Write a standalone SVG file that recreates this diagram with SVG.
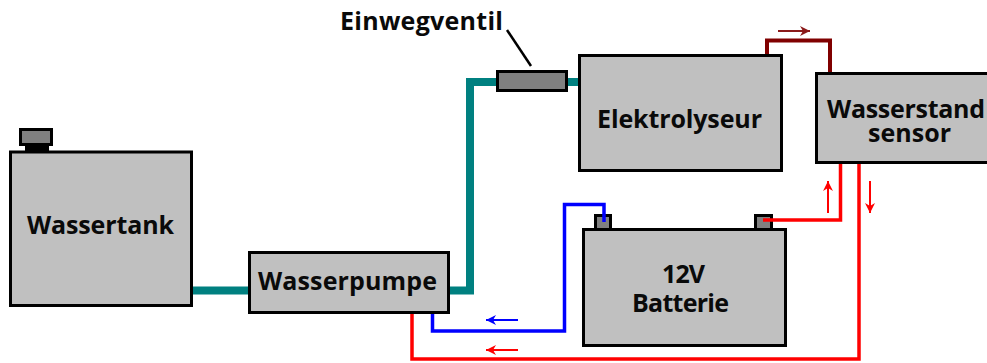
<svg xmlns="http://www.w3.org/2000/svg" width="987" height="363" viewBox="0 0 987 363">
<style>
.box{fill:#c0c0c0;stroke:#000;stroke-width:3}
.dark{fill:#808080;stroke:#000;stroke-width:3}
text{font-family:"Open Sans","Liberation Sans",Arial,sans-serif;font-weight:700;font-size:25px;fill:#0a0a0a}
.w{fill:none;stroke-linejoin:miter}
.teal{stroke:#008080;stroke-width:8}
.red{stroke:#f00;stroke-width:3.500}
.blue{stroke:#00f;stroke-width:3.500}
.maroon{stroke:#800000;stroke-width:4}
.a{fill:none;stroke-width:2}
</style>
<defs>
<marker id="hr" viewBox="0 0 12 12" refX="11" refY="6" markerWidth="12" markerHeight="12" markerUnits="userSpaceOnUse" orient="auto"><path d="M1 1L11 6L1 11L4 6Z" fill="#f00"/></marker>
<marker id="hb" viewBox="0 0 12 12" refX="11" refY="6" markerWidth="12" markerHeight="12" markerUnits="userSpaceOnUse" orient="auto"><path d="M1 1L11 6L1 11L4 6Z" fill="#00f"/></marker>
<marker id="hm" viewBox="0 0 12 12" refX="11" refY="6" markerWidth="12" markerHeight="12" markerUnits="userSpaceOnUse" orient="auto"><path d="M1 1L11 6L1 11L4 6Z" fill="#8b1a1a"/></marker>
</defs>
<rect width="987" height="363" fill="#fff"/>
<g id="wassertank">
<rect x="25" y="145" width="24" height="7" fill="#000"/>
<rect class="dark" x="20.500" y="129.500" width="31" height="15"/>
<rect class="box" x="10.500" y="152" width="181" height="153.500"/>
<text x="27" y="234" textLength="147">Wassertank</text>
</g>
<g id="wasserpumpe">
<rect class="box" x="249.500" y="252.500" width="199" height="60"/>
<text x="258" y="290" textLength="179">Wasserpumpe</text>
</g>
<g id="einwegventil">
<rect class="dark" x="497.500" y="71.500" width="69" height="19"/>
<text x="340" y="30" textLength="163">Einwegventil</text>
<line x1="507" y1="30" x2="531" y2="66" stroke="#000" stroke-width="2.500"/>
</g>
<g id="elektrolyseur">
<rect class="box" x="579.500" y="55.500" width="202" height="115"/>
<text x="597" y="128" textLength="165">Elektrolyseur</text>
</g>
<g id="wasserstandsensor">
<rect class="box" x="816.500" y="73.500" width="175" height="89"/>
<text x="827" y="118" textLength="158">Wasserstand</text>
<text x="868" y="142" textLength="83">sensor</text>
</g>
<g id="batterie">
<rect class="dark" x="595.500" y="215.500" width="15" height="14"/>
<rect class="dark" x="755.500" y="215.500" width="16" height="14"/>
<rect class="box" x="583.500" y="229.500" width="202" height="116"/>
<text x="662" y="283" textLength="43">12V</text>
<text x="632" y="312" textLength="97">Batterie</text>
</g>
<g id="connectors">
<path class="w teal" d="M193 290.500H248"/>
<path class="w teal" d="M450 290.500H470V82H496"/>
<path class="w teal" d="M568 82H578"/>
<path class="w maroon" d="M767 54V40.500H830V72"/>
<path class="w red" d="M840.500 164V220H763"/>
<path class="w red" d="M859 164V359H412V314"/>
<path class="w blue" d="M432.500 314V331H564.500V204.500H604V222"/>
<path class="a" stroke="#8b1a1a" marker-end="url(#hm)" d="M778 31H810"/>
<path class="a" stroke="#f00" marker-end="url(#hr)" d="M828 213V181"/>
<path class="a" stroke="#f00" marker-end="url(#hr)" d="M870 181V213"/>
<path class="a" stroke="#00f" marker-end="url(#hb)" d="M518 320H486"/>
<path class="a" stroke="#f00" marker-end="url(#hr)" d="M518 350H486"/>
</g>
</svg>
